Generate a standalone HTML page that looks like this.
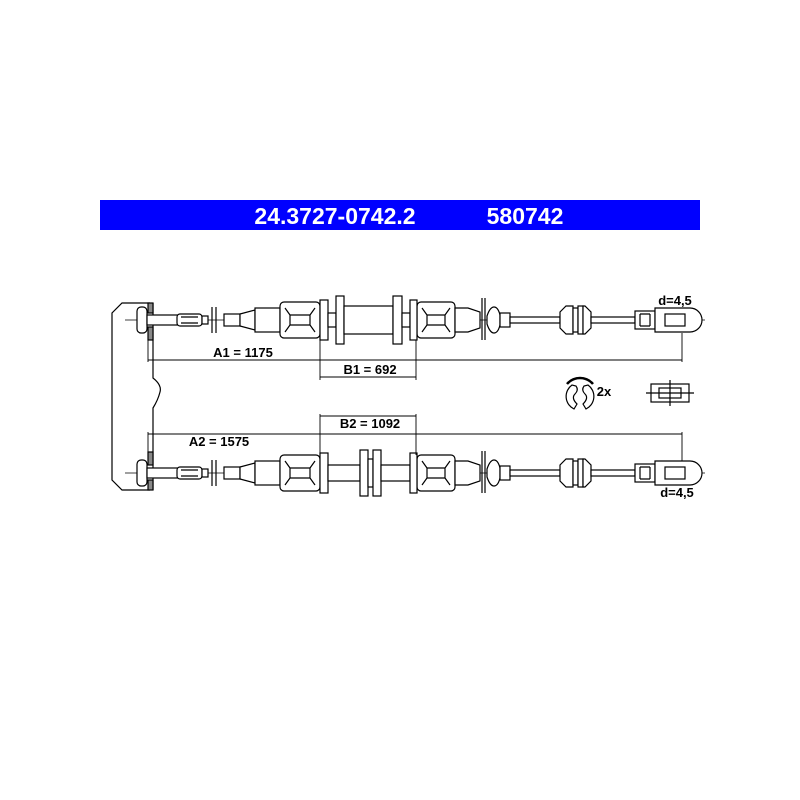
<!DOCTYPE html>
<html><head><meta charset="utf-8"><style>
html,body{margin:0;padding:0;background:#fff;width:800px;height:800px;overflow:hidden}
svg text{font-family:"Liberation Sans",Arial,sans-serif;font-weight:bold}
</style></head><body>
<svg width="800" height="800" viewBox="0 0 800 800" xmlns="http://www.w3.org/2000/svg">
<rect x="100" y="200" width="600" height="30" fill="#0000ff"/>
<text x="335" y="224" font-size="23" fill="#fff" text-anchor="middle">24.3727-0742.2</text>
<text x="525" y="224" font-size="23" fill="#fff" text-anchor="middle">580742</text>

<g fill="none" stroke="#000" stroke-width="1.2">
<path d="M150,303 L122,303 L112,313 L112,480 L122,490 L150,490"/>
<path d="M153,303 L153,378 Q162,385 160,392 Q158,400 153,408 L153,490"/>
<rect x="148" y="303" width="5" height="10" fill="#888"/>
<rect x="148" y="327" width="5" height="13" fill="#888"/>
<rect x="148" y="452" width="5" height="13" fill="#888"/>
<rect x="148" y="480" width="5" height="10" fill="#888"/>
</g>

<defs>
<g id="ends" fill="#fff" stroke="#000" stroke-width="1.2">
<line x1="125" y1="0" x2="705" y2="0" stroke-width="0.8"/>
<rect x="137" y="-13" width="10" height="26" rx="4"/>
<rect x="147" y="-5" width="31" height="10"/>
<rect x="177" y="-6" width="25" height="12" rx="3"/>
<line x1="181" y1="-3" x2="198" y2="-3"/><line x1="181" y1="3" x2="198" y2="3"/>
<rect x="202" y="-4" width="6" height="8"/>
<line x1="212" y1="-13" x2="212" y2="13"/><line x1="216" y1="-13" x2="216" y2="13"/>
<rect x="224" y="-6" width="16" height="12"/>
<path d="M240,-6 L255,-10 L255,10 L240,6 Z"/>
<rect x="255" y="-12" width="25" height="24"/>
<rect x="280" y="-18" width="40" height="36" rx="4"/>
<path d="M285,-12 L290,-5 L310,-5 L315,-12 M285,12 L290,5 L310,5 L315,12 M290,-5 L290,5 M310,-5 L310,5"/>
<rect x="417" y="-18" width="38" height="36" rx="4"/>
<path d="M422,-12 L427,-5 L445,-5 L450,-12 M422,12 L427,5 L445,5 L450,12 M427,-5 L427,5 M445,-5 L445,5"/>
<path d="M455,-12 L468,-12 L480,-8 L480,8 L468,12 L455,12 Z"/>
<line x1="482" y1="-22" x2="482" y2="20"/><line x1="485" y1="-22" x2="485" y2="20"/>
<path d="M487,-4 Q490,-13 494,-13 Q498,-13 500,-5 L500,5 Q498,13 494,13 Q490,13 487,4 Z"/>
<rect x="500" y="-7" width="10" height="14"/>
<rect x="510" y="-3" width="50" height="6"/>
<path d="M560,-8 L566,-14 L573,-14 L573,14 L566,14 L560,8 Z"/>
<rect x="573" y="-12" width="5" height="24"/><rect x="578" y="-14" width="5" height="28"/>
<path d="M583,-14 L585,-14 L591,-8 L591,8 L585,14 L583,14 Z"/>
<rect x="591" y="-3" width="44" height="6"/>
<rect x="635" y="-9" width="20" height="18"/>
<path d="M640,-6 L650,-6 M640,6 L650,6 M640,-6 L640,6 M650,-6 L650,6"/>
<path d="M655,-12 L690,-12 A12,12 0 0 1 690,12 L655,12 Z"/>
<rect x="665" y="-6" width="20" height="12"/>
</g>
</defs>

<g transform="translate(0,320)">
<use href="#ends"/>
<g fill="#fff" stroke="#000" stroke-width="1.2">
<rect x="320" y="-20" width="8" height="40"/>
<rect x="328" y="-7" width="8" height="14"/>
<rect x="336" y="-24" width="8" height="48"/>
<rect x="344" y="-14" width="49" height="28"/>
<rect x="393" y="-24" width="9" height="48"/>
<rect x="402" y="-7" width="8" height="14"/>
<rect x="410" y="-20" width="7" height="40"/>
</g>
</g>

<g transform="translate(0,473)">
<use href="#ends"/>
<g fill="#fff" stroke="#000" stroke-width="1.2">
<rect x="320" y="-20" width="8" height="40"/>
<rect x="328" y="-8" width="32" height="16"/>
<rect x="360" y="-23" width="8" height="46"/>
<rect x="368" y="-14" width="5" height="28"/>
<rect x="373" y="-23" width="8" height="46"/>
<rect x="381" y="-8" width="29" height="16"/>
<rect x="410" y="-20" width="7" height="40"/>
</g>
</g>

<g stroke="#000" stroke-width="0.9" fill="none">
<line x1="148" y1="340" x2="148" y2="362"/>
<line x1="148" y1="360" x2="682" y2="360"/>
<line x1="682" y1="333" x2="682" y2="362"/>
<line x1="320" y1="340" x2="320" y2="380"/>
<line x1="416" y1="340" x2="416" y2="380"/>
<line x1="320" y1="377" x2="416" y2="377"/>
<line x1="320" y1="414" x2="320" y2="455"/>
<line x1="416" y1="414" x2="416" y2="455"/>
<line x1="320" y1="416" x2="416" y2="416"/>
<line x1="148" y1="432" x2="148" y2="455"/>
<line x1="148" y1="434" x2="682" y2="434"/>
<line x1="682" y1="432" x2="682" y2="461"/>
</g>
<g font-size="13" fill="#000" text-anchor="middle">
<text x="243" y="357">A1 = 1175</text>
<text x="370" y="374">B1 = 692</text>
<text x="370" y="428">B2 = 1092</text>
<text x="219" y="446">A2 = 1575</text>
<text x="675" y="305">d=4,5</text>
<text x="677" y="497">d=4,5</text>
<text x="604" y="396">2x</text>
</g>

<g fill="none" stroke="#000" stroke-width="1.2">
<path d="M572,385 A14,14 0 0 0 574,409 L577,404 Q571,398 575,394 Q579,390 576,386 Z"/>
<path d="M588,385 A14,14 0 0 1 586,409 L583,404 Q589,398 585,394 Q581,390 584,386 Z"/>
<path d="M567,384 A17,17 0 0 1 593,384" stroke-width="2.5"/>
<rect x="651" y="384" width="38" height="18"/>
<rect x="659" y="388" width="22" height="10"/>
<line x1="646" y1="393" x2="694" y2="393"/>
<line x1="670" y1="380" x2="670" y2="406"/>
</g>
</svg>
</body></html>
